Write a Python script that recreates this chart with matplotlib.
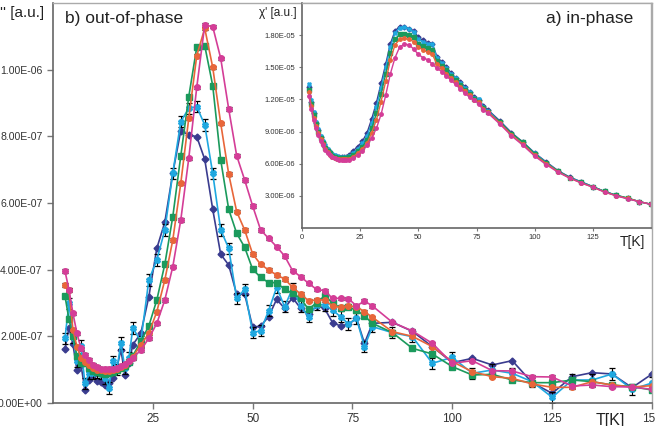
import numpy as np
import matplotlib
matplotlib.use("Agg")
import matplotlib.pyplot as plt
from matplotlib.ticker import FormatStrFormatter

plt.rcParams["font.family"] = ["Liberation Sans", "DejaVu Sans"]

# temperature grid [K]
temps = [3, 4, 5, 6, 7, 8, 9, 10, 11, 12, 13, 14, 15, 16, 17, 18, 19, 20,
         22, 24, 26, 28, 30, 32, 34, 36, 38, 40, 42, 44, 46, 48, 50, 52, 54, 56,
         58, 60, 62, 64, 66, 68, 70, 72, 74, 76, 78, 80,
         85, 90, 95, 100, 105, 110, 115, 120, 125, 130, 135, 140, 145, 150]

# out-of-phase chi'' (units of 1e-7)
chi2_navy = [1.61, 2.26, 1.76, 0.99, 1.15, 0.39, 0.69, 0.85, 0.65, 0.62, 0.55, 0.60, 0.75, 1.05, 1.60, 0.85, 1.20, 1.75,
             2.09, 3.19, 4.64, 5.42, 6.90, 8.17, 8.04, 7.99, 7.31, 5.81, 4.46, 4.14, 3.26, 3.27, 2.27, 2.31, 2.59, 3.11,
             2.84, 3.16, 2.84, 2.66, 2.91, 2.84, 2.41, 2.31, 2.36, 2.54, 1.79, 2.39,
             2.42, 2.15, 1.69, 1.21, 1.34, 1.14, 1.27, 0.61, 0.29, 0.79, 0.91, 0.87, 0.46, 0.87]
chi2_cyan = [1.94, 2.99, 1.97, 1.26, 1.72, 0.59, 0.89, 0.90, 0.92, 0.88, 0.75, 0.45, 1.25, 1.00, 1.80, 1.05, 1.35, 2.25,
             1.85, 3.69, 4.29, 5.19, 6.89, 8.44, 8.84, 8.89, 8.34, 6.89, 5.19, 4.64, 3.14, 3.41, 2.11, 2.17, 2.77, 3.47,
             2.89, 3.44, 2.91, 2.59, 2.95, 2.94, 2.79, 2.59, 2.37, 2.54, 1.69, 2.29,
             2.11, 1.99, 1.19, 1.37, 0.89, 0.99, 0.89, 0.64, 0.17, 0.69, 0.69, 0.87, 0.41, 0.60]
chi2_green = [3.21, 2.51, 2.01, 1.41, 1.19, 1.19, 1.05, 0.95, 0.92, 0.90, 0.88, 0.90, 0.92, 0.98, 1.05, 1.12, 1.22, 1.42,
              1.85, 2.31, 3.09, 4.16, 5.59, 7.41, 9.19, 10.67, 10.72, 9.52, 7.29, 5.81, 5.09, 4.67, 4.01, 3.77, 3.61, 3.61,
              3.41, 3.29, 3.14, 2.81, 3.01, 3.21, 3.01, 2.84, 2.87, 2.79, 2.61, 2.39,
              2.11, 1.64, 1.47, 1.09, 0.84, 0.86, 0.69, 0.61, 0.61, 0.69, 0.64, 0.54, 0.49, 0.39]
chi2_orange = [3.54, 3.39, 2.19, 1.69, 1.35, 1.24, 1.15, 1.05, 1.00, 0.98, 0.97, 0.97, 1.00, 1.02, 1.08, 1.15, 1.25, 1.38,
               1.75, 2.09, 2.74, 3.69, 4.89, 6.59, 8.54, 10.42, 11.24, 10.07, 8.39, 6.87, 5.74, 5.19, 4.47, 4.16, 3.99, 3.84,
               3.72, 3.47, 3.27, 3.07, 3.09, 3.09, 2.91, 2.87, 2.91, 2.89, 2.74, 2.57,
               2.14, 2.00, 1.69, 1.24, 0.94, 0.79, 0.74, 0.57, 0.47, 0.47, 0.64, 0.54, 0.48, 0.52]
chi2_magenta = [3.96, 3.40, 2.69, 2.09, 1.64, 1.44, 1.29, 1.15, 1.08, 1.03, 1.02, 1.02, 1.03, 1.05, 1.10, 1.18, 1.25, 1.35,
                1.59, 1.94, 2.39, 3.09, 4.09, 5.49, 7.34, 9.47, 11.34, 11.29, 10.34, 8.82, 7.42, 6.69, 5.91, 5.19, 4.94, 4.69,
                4.41, 3.97, 3.79, 3.59, 3.41, 3.37, 3.14, 3.14, 3.13, 2.91, 3.06, 2.91,
                2.42, 2.16, 1.79, 1.19, 1.27, 0.97, 0.96, 0.79, 0.78, 0.51, 0.54, 0.49, 0.48, 0.41]

# in-phase chi' (units of 1e-6)
chi1_navy = [13.2, 11.8, 10.7, 9.8, 9.1, 8.5, 8.0, 7.6, 7.3, 7.05, 6.85, 6.75, 6.65, 6.6, 6.6, 6.6, 6.65, 6.8,
             7.2, 7.6, 8.1, 8.9, 10.2, 11.7, 13.5, 15.3, 17.2, 18.4, 18.8, 18.8, 18.6, 18.4, 17.8, 17.5, 17.3, 17.2,
             16.0, 15.5, 15.0, 14.5, 14.0, 13.6, 13.2, 12.7, 12.2, 11.9, 11.4, 11.0,
             10.0, 8.9, 8.0, 7.0, 6.15, 5.35, 4.75, 4.3, 3.85, 3.4, 3.05, 2.75, 2.45, 2.2]
chi1_cyan = [13.4, 11.9, 10.8, 9.9, 9.2, 8.6, 8.1, 7.7, 7.4, 7.1, 6.9, 6.8, 6.7, 6.65, 6.6, 6.6, 6.6, 6.7,
             7.0, 7.4, 7.9, 8.6, 9.8, 11.3, 13.1, 15.0, 16.9, 18.2, 18.7, 18.75, 18.6, 18.3, 17.6, 17.4, 17.2, 17.2,
             15.9, 15.4, 14.9, 14.4, 14.0, 13.5, 13.1, 12.7, 12.1, 12.0, 11.3, 10.9,
             9.9, 8.8, 7.95, 6.95, 6.1, 5.3, 4.7, 4.3, 3.85, 3.4, 3.05, 2.75, 2.45, 2.2]
chi1_green = [12.9, 11.6, 10.5, 9.7, 9.0, 8.4, 7.9, 7.5, 7.2, 6.95, 6.75, 6.65, 6.55, 6.5, 6.5, 6.5, 6.5, 6.6,
              6.8, 7.2, 7.6, 8.2, 9.3, 10.7, 12.5, 14.4, 16.3, 17.6, 18.1, 18.1, 18.0, 17.8, 17.2, 17.0, 16.8, 16.6,
              15.6, 15.1, 14.7, 14.2, 13.8, 13.3, 12.9, 12.5, 12.0, 11.8, 11.2, 10.8,
              9.9, 8.8, 8.0, 6.9, 6.05, 5.3, 4.7, 4.25, 3.85, 3.4, 3.05, 2.8, 2.45, 2.2]
chi1_orange = [12.7, 11.4, 10.3, 9.5, 8.85, 8.3, 7.8, 7.4, 7.1, 6.85, 6.65, 6.55, 6.45, 6.4, 6.4, 6.4, 6.4, 6.45,
               6.65, 7.0, 7.4, 7.9, 8.9, 10.1, 11.8, 13.7, 15.7, 17.1, 17.6, 17.7, 17.6, 17.4, 16.9, 16.6, 16.4, 16.2,
               15.3, 14.9, 14.4, 14.0, 13.6, 13.2, 12.8, 12.4, 11.9, 11.8, 11.1, 10.8,
               9.8, 8.7, 7.8, 6.8, 6.0, 5.25, 4.65, 4.2, 3.8, 3.35, 3.0, 2.75, 2.45, 2.2]
chi1_magenta = [12.3, 11.1, 10.1, 9.3, 8.7, 8.1, 7.7, 7.3, 7.0, 6.8, 6.6, 6.5, 6.4, 6.35, 6.3, 6.3, 6.3, 6.35,
                6.5, 6.8, 7.2, 7.7, 8.4, 9.3, 10.6, 12.4, 14.4, 15.9, 16.9, 17.15, 17.1, 16.7, 16.2, 15.9, 15.7, 15.3,
                14.9, 14.6, 14.2, 13.8, 13.4, 13.0, 12.6, 12.2, 11.9, 11.6, 11.0, 10.7,
                9.7, 8.6, 7.7, 6.7, 5.9, 5.2, 4.65, 4.2, 3.8, 3.35, 3.0, 2.7, 2.45, 2.2]

# error bar sizes (units of 1e-7)
err_cyan = 0.17
err_small = 0.05

series = [
    # (chi'', chi', color, marker, err)
    (chi2_navy, chi1_navy, "#3a3c8f", "D", 0.0),
    (chi2_cyan, chi1_cyan, "#1fa8e0", "X", err_cyan),
    (chi2_green, chi1_green, "#1b9a5c", "s", err_small),
    (chi2_orange, chi1_orange, "#e8663a", "o", err_small),
    (chi2_magenta, chi1_magenta, "#d43d97", "o", err_small),
]

fig = plt.figure(figsize=(6.55, 4.26), dpi=100)

# ---- main plot: out-of-phase
ax = fig.add_axes([0.0809, 0.054, 0.9145, 0.939])
for y2, y1, col, mk, err in series:
    y = np.array(y2) * 1e-7
    if err > 0:
        ax.errorbar(temps, y, yerr=err * 1e-7, color=col, marker=mk, markersize=4,
                    linewidth=1.2, ecolor="black", elinewidth=0.8, capsize=2.5, capthick=0.9)
    else:
        ax.plot(temps, y, color=col, marker=mk, markersize=3.5, linewidth=1.2)

ax.set_xlim(0, 150)
ax.set_ylim(0, 1.2e-6)
ax.set_xticks([25, 50, 75, 100, 125, 150])
ax.set_yticks([0, 2e-7, 4e-7, 6e-7, 8e-7, 1e-6])
ax.yaxis.set_major_formatter(FormatStrFormatter("%.2E"))
ax.tick_params(direction="out", length=4, width=1, color="#777777", labelsize=8.5, labelcolor="#333333")
ax.tick_params(axis="y", labelsize=7.6)
for side in ["left", "bottom"]:
    ax.spines[side].set_color("#666666")
    ax.spines[side].set_linewidth(1.2)
for side in ["top", "right"]:
    ax.spines[side].set_color("#aaaaaa")
    ax.spines[side].set_linewidth(1.0)

fig.text(44 / 655, 1 - 13 / 426, "χ'' [a.u.]", ha="right", va="center", fontsize=11, color="#222222")
fig.text(65 / 655, 1 - 19 / 426, "b) out-of-phase", ha="left", va="center", fontsize=12.5, color="#222222")
fig.text(610 / 655, 1 - 421 / 426, "T[K]", ha="center", va="center", fontsize=11.5, color="#222222")

# ---- inset: in-phase
ax2 = fig.add_axes([0.461, 0.465, 0.533, 0.528])
ax2.set_facecolor("white")
for y2, y1, col, mk, err in series:
    ax2.plot(temps, np.array(y1) * 1e-6, color=col, marker=mk, markersize=2.5, linewidth=1.0)

ax2.set_xlim(0, 150)
ax2.set_ylim(0, 2.1e-5)
ax2.set_xticks([0, 25, 50, 75, 100, 125])
ax2.set_yticks([3e-6, 6e-6, 9e-6, 1.2e-5, 1.5e-5, 1.8e-5])
ax2.yaxis.set_major_formatter(FormatStrFormatter("%.2E"))
ax2.tick_params(direction="out", length=2.5, width=0.8, color="#777777", labelsize=5.5, labelcolor="#333333", pad=2)
for side in ["left", "bottom"]:
    ax2.spines[side].set_color("#666666")
    ax2.spines[side].set_linewidth(1.2)
for side in ["top", "right"]:
    ax2.spines[side].set_color("#aaaaaa")
    ax2.spines[side].set_linewidth(1.0)

fig.text(297 / 655, 1 - 13 / 426, "χ' [a.u.]", ha="right", va="center", fontsize=8.5, color="#222222")
fig.text(633 / 655, 1 - 19 / 426, "a) in-phase", ha="right", va="center", fontsize=12.5, color="#222222")
fig.text(632 / 655, 1 - 242 / 426, "T[K]", ha="center", va="center", fontsize=10, color="#222222")

plt.savefig("out.png", dpi=100)
